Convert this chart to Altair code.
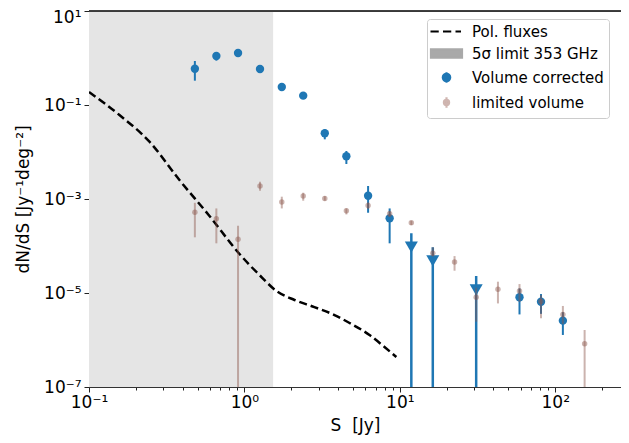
import altair as alt
import pandas as pd

# ---------------- data ----------------
# Volume corrected (blue circles with error bars)
vc_s = [0.48, 0.66, 0.91, 1.26, 1.74, 2.39, 3.29, 4.53, 6.25, 8.6, 58.9, 81.0, 112.0]
vc_n = [0.592, 1.10, 1.28, 0.583, 0.241, 0.158, 0.025, 0.0081, 1.17e-3, 3.88e-4, 8.1e-6, 6.5e-6, 2.58e-6]
vc_hi = [0.863, 1.32, 1.38, 0.62, 0.256, 0.168, 0.0304, 0.0105, 1.89e-3, 6.3e-4, 1.25e-5, 9.5e-6, 3.9e-6]
vc_lo = [0.329, 0.88, 1.18, 0.545, 0.226, 0.148, 0.0186, 0.00556, 5.1e-4, 1.14e-4, 3.5e-6, 3.6e-6, 1.28e-6]

# Volume corrected upper limits (blue downward triangles)
ul_s = [11.86, 16.3, 31.0]
ul_n = [9.5e-5, 4.84e-5, 1.17e-5]
ul_hi = [1.86e-4, 9.4e-5, 2.3e-5]
ul_lo = [0.0, 0.0, 0.0]

# limited volume (translucent brown)
lv_s = [0.48, 0.66, 0.91, 1.26, 1.74, 2.39, 3.29, 4.53, 6.25, 8.6, 11.86, 16.3,
        22.5, 31.0, 42.8, 58.9, 81.0, 112.0, 154.6]
lv_n = [5.2e-4, 3.81e-4, 1.39e-4, 1.89e-3, 8.6e-4, 1.16e-3, 1.03e-3, 5.6e-4, 7.3e-4,
        4.87e-4, 3.13e-4, 7.0e-5, 4.57e-5, 8.1e-6, 1.2e-5, 1.1e-5, 6.6e-6, 3.5e-6, 8.3e-7]
lv_hi = [8.3e-4, 6.3e-4, 2.7e-4, 2.33e-3, 1.12e-3, 1.36e-3, 1.15e-3, 6.3e-4, 8.5e-4,
         5.6e-4, 3.45e-4, 9.4e-5, 6.1e-5, 1.3e-5, 1.74e-5, 1.55e-5, 9.0e-6, 5.3e-6, 1.63e-6]
lv_lo = [1.53e-4, 1.14e-4, 0.0, 1.5e-3, 6.3e-4, 9.2e-4, 9.2e-4, 4.7e-4, 6.1e-4,
         4.15e-4, 2.8e-4, 6.0e-5, 2.98e-5, 2.45e-6, 6.0e-6, 6.5e-6, 2.9e-6, 2.2e-6, 0.0]

# Pol. fluxes (dashed curve)
pf_s = [0.1, 0.157, 0.245, 0.382, 0.596, 0.93, 1.25, 1.61, 2.10, 2.82, 3.80, 4.75, 6.38, 7.85, 9.5]
pf_n = [0.189, 0.0612, 0.01656, 2.53e-3, 4.35e-4, 6.76e-5, 2.41e-5, 1.10e-5, 7.1e-6,
        5.0e-6, 3.4e-6, 2.30e-6, 1.28e-6, 7.4e-7, 4.35e-7]

# 5 sigma limit band
span_s = [0.1, 1.53]

legend_labels = ["Pol. fluxes", " 5\u03c3 limit 353 GHz", "Volume corrected", "limited volume"]

x_ticks = [0.1, 0.2, 0.3, 0.4, 0.5, 0.6, 0.7, 0.8, 0.9,
           1, 2, 3, 4, 5, 6, 7, 8, 9,
           10, 20, 30, 40, 50, 60, 70, 80, 90,
           100, 200]
y_ticks = [10, 0.1, 1e-3, 1e-5, 1e-7]
x_domain = [0.1, 265]
y_domain = [1e-7, 10]

# ---------------- tables ----------------
FLOOR = 1e-12
def clamp(v):
    return v if v > 0 else FLOOR

vc = pd.DataFrame({"s": vc_s, "n": vc_n, "hi": vc_hi, "lo": vc_lo})
ul = pd.DataFrame({"s": ul_s, "n": ul_n, "hi": ul_hi, "lo": [clamp(v) for v in ul_lo]})
lv = pd.DataFrame({"s": lv_s, "n": lv_n, "hi": lv_hi, "lo": [clamp(v) for v in lv_lo]})
pf = pd.DataFrame({"s": pf_s, "n": pf_n})
span = pd.DataFrame({"s": [span_s[0]], "s2": [span_s[1]]})
leg_df = pd.DataFrame({"label": legend_labels, "s": [0.001] * 4, "n": [1e-3] * 4})

W, H = 532, 376
FONT = "DejaVu Sans"
BLUE = "#1f77b4"
BROWN = "#8c564b"

major_test = "abs(log(datum.value)/LN10 - round(log(datum.value)/LN10)) < 0.001"
sup = "{'-7':'\u207b\u2077','-5':'\u207b\u2075','-3':'\u207b\u00b3','-1':'\u207b\u00b9','0':'\u2070','1':'\u00b9','2':'\u00b2'}"
lab_expr = ("(" + major_test + ") ? '10' + " + sup +
            "['' + round(log(datum.value)/LN10)] : ''")

xscale = alt.Scale(type="log", domain=x_domain)
yscale = alt.Scale(type="log", domain=y_domain)

xaxis = alt.Axis(values=x_ticks, labelExpr=lab_expr, title="S\u00a0\u00a0[Jy]", grid=False,
                 domain=True, domainColor="#333", domainWidth=1,
                 labelOverlap=False, labelFlush=False,
                 tickSize={"condition": {"test": major_test, "value": 5}, "value": 3},
                 tickColor="#222", labelColor="black", labelFont=FONT, labelFontSize=17,
                 labelPadding=2, titleFont=FONT, titleFontSize=17, titleFontWeight="normal",
                 titleColor="black", titlePadding=7)
yaxis = alt.Axis(values=y_ticks, labelExpr=lab_expr, title="dN/dS [Jy\u207b\u00b9deg\u207b\u00b2]",
                 grid=False, domain=True, domainColor="#333", domainWidth=1,
                 labelOverlap=False, labelFlush=False, tickSize=5,
                 labelOffset={"condition": {"test": "datum.value > 5", "value": 6}, "value": 0},
                 tickColor="#222", labelColor="black", labelFont=FONT, labelFontSize=17,
                 labelPadding=3, titleFont=FONT, titleFontSize=17, titleFontWeight="normal",
                 titleColor="black", titlePadding=11)

X = alt.X("s:Q", scale=xscale, axis=xaxis)
Y = alt.Y("n:Q", scale=yscale, axis=yaxis)

band = alt.Chart(span).mark_rect(color="#e5e5e5", clip=True).encode(
    x=X, x2="s2:Q", y=alt.value(0), y2=alt.value(H))

top_spine = alt.Chart(span).mark_rule(color="black", strokeWidth=1.6).encode(
    x=alt.value(0), x2=alt.value(W), y=alt.value(0))

pol = alt.Chart(pf).mark_line(color="black", strokeWidth=2.5, strokeDash=[8, 4],
                              interpolate="monotone", clip=True).encode(x=X, y=Y)

vc_err = alt.Chart(vc).mark_rule(color=BLUE, strokeWidth=2, clip=True).encode(
    x=X, y=alt.Y("lo:Q", scale=yscale, axis=yaxis), y2="hi:Q")
vc_pt = alt.Chart(vc).mark_point(filled=True, color=BLUE, size=70, opacity=1, clip=True).encode(x=X, y=Y)

ul_err = alt.Chart(ul).mark_rule(color=BLUE, strokeWidth=2.5, clip=True).encode(
    x=X, y=alt.Y("lo:Q", scale=yscale, axis=yaxis), y2="hi:Q")
ul_pt = alt.Chart(ul).mark_point(filled=True, color=BLUE, shape="triangle-down", size=170,
                                 opacity=1, clip=True).encode(x=X, y=Y)

lv_err = alt.Chart(lv).mark_rule(color=BROWN, strokeWidth=2, opacity=0.45, clip=True).encode(
    x=X, y=alt.Y("lo:Q", scale=yscale, axis=yaxis), y2="hi:Q")
lv_pt = alt.Chart(lv).mark_point(filled=True, color=BROWN, size=30, opacity=0.45, clip=True).encode(x=X, y=Y)

# legend symbols (custom SVG paths, unit = sqrt(symbolSize)/2 px)
paths = [
    "M-3.2,0H-1.55M-0.7,0H0.95M1.8,0H2.9",
    "M-3.1,-0.85H3.1V0.85H-3.1Z",
    "M0,-1.07V1.07M0.74,0A0.74,0.74,0,1,1,-0.74,0A0.74,0.74,0,1,1,0.74,0Z",
    "M0,-1.07V1.07M0.52,0A0.52,0.52,0,1,1,-0.52,0A0.52,0.52,0,1,1,0.52,0Z",
]
fill_range = ["transparent", "#a9a9a9", BLUE, "#c9aaa5"]
stroke_range = ["black", "#a9a9a9", BLUE, "#cfb5b0"]

leg = alt.Legend(title=None, orient="none", legendX=338, legendY=8, symbolSize=100,
                 symbolStrokeWidth=2.2, symbolOpacity=1, labelFont=FONT, labelFontSize=15,
                 labelColor="black", rowPadding=4, padding=5, fillColor="white",
                 strokeColor="#cccccc", cornerRadius=3, symbolOffset=7, labelOffset=18)

legend_layer = alt.Chart(leg_df).mark_point(filled=True, strokeWidth=2.2, opacity=1, clip=True).encode(
    x=X, y=Y,
    fill=alt.Fill("label:N", scale=alt.Scale(domain=legend_labels, range=fill_range), legend=leg),
    stroke=alt.Stroke("label:N", scale=alt.Scale(domain=legend_labels, range=stroke_range), legend=leg),
    shape=alt.Shape("label:N", scale=alt.Scale(domain=legend_labels, range=paths), legend=leg),
)

chart = alt.layer(band, pol, vc_err, vc_pt, ul_err, ul_pt, lv_err, lv_pt, top_spine, legend_layer).properties(
    width=W, height=H,
    autosize=alt.AutoSizeParams(type="none"),
    padding={"left": 81, "top": 3, "right": 0, "bottom": 48},
).configure_view(strokeWidth=0).configure(background="white")

chart.save("out.html", embed_options={"renderer": "svg", "actions": False})
